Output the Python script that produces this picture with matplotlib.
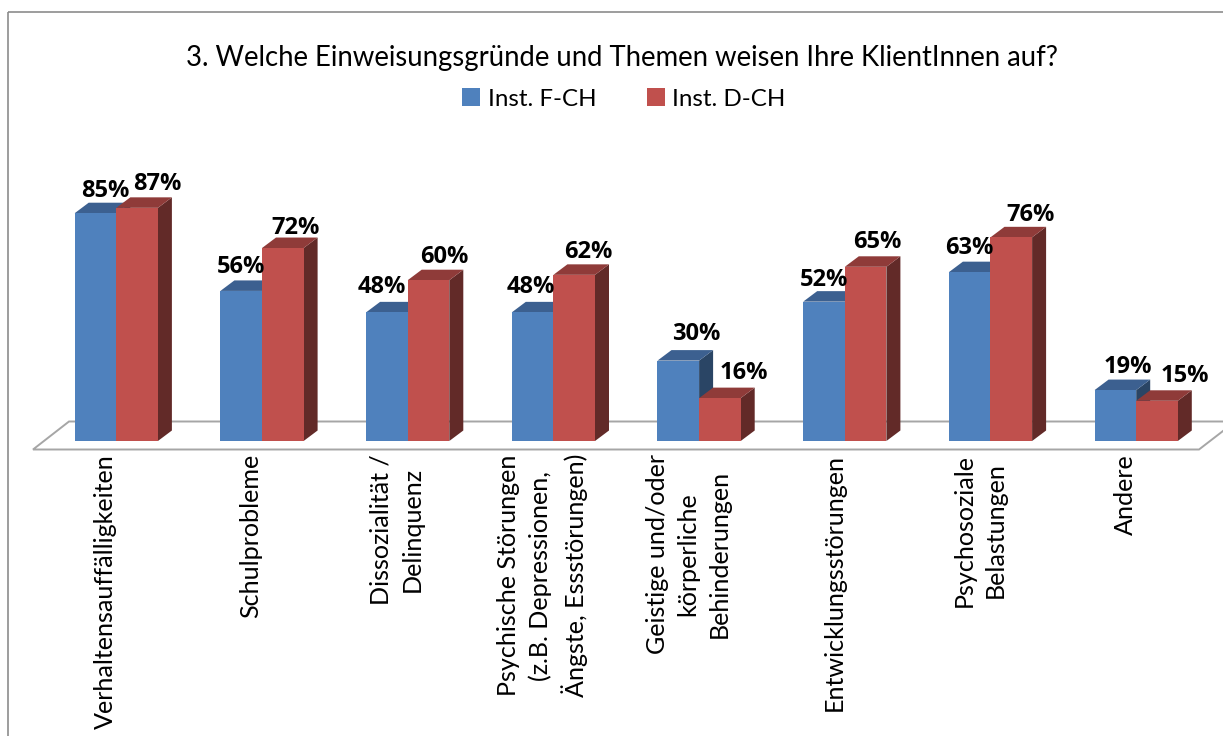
import matplotlib
matplotlib.use("Agg")
import matplotlib.pyplot as plt
from matplotlib.patches import Rectangle
from matplotlib.transforms import Affine2D

categories = ["Verhaltensauffälligkeiten", "Schulprobleme", "Dissozialität /\nDelinquenz",
              "Psychische Störungen\n(z.B. Depressionen,\nÄngste, Essstörungen)",
              "Geistige und/oder\nkörperliche\nBehinderungen", "Entwicklungsstörungen",
              "Psychosoziale\nBelastungen", "Andere"]
inst_f_ch = [85, 56, 48, 48, 30, 52, 63, 19]
inst_d_ch = [87, 72, 60, 62, 16, 65, 76, 15]
series_names = ["Inst. F-CH", "Inst. D-CH"]
title = "3. Welche Einweisungsgründe und Themen weisen Ihre KlientInnen auf?"

# label nudges in pixels relative to each bar's top centre
f_dx = [10, 0, -5, -2, 18, 0, 0, 12]
f_dy = [22, 24, 25, 25, 27, 22, 24, 23]
d_dx = [20, 13, 16, 14, 24, 12, 19, 28]
d_dy = [24, 20, 23, 23, 25, 25, 22, 25]

W, H = 1223, 736
STEP = 145.7      # px per category
PPV = 2.68        # px per percent
X0, Y0 = 116.3, 441
DX, DY = 14 / STEP, 10.5 / PPV   # 3-D depth in data units
BW = 41.6 / STEP
FONT = "Lato"
BOLD = "Open Sans"

fig = plt.figure(figsize=(W / 100, H / 100), dpi=100, facecolor="white")
ax = fig.add_axes([0, 0, 1, 1])
ax.set_xlim(-X0 / STEP, (W - X0) / STEP)
ax.set_ylim((Y0 - H) / PPV, Y0 / PPV)
ax.axis("off")

# pixel transform (origin top-left) for the chart frame and floor
px = Affine2D().scale(1 / W, -1 / H).translate(0, 1) + fig.transFigure
fig.add_artist(Rectangle((8, 12), W + 20, H + 20, transform=px, fill=False,
                         ec="#8c8c8c", lw=1.2))
ax.plot([1223, 69, 33, 1199, 1223], [421.5, 421.5, 449.5, 449.5, 431], transform=px,
        color="#a6a6a6", lw=1.4, zorder=1, solid_joinstyle="miter", clip_on=True)


def draw(values, off, front, top, side, name, z):
    xs = [i + off for i in range(len(values))]
    ax.bar(xs, values, width=BW, color=front, label=name, zorder=z + 1, linewidth=0)
    for x, v in zip(xs, values):
        r, l = x + BW / 2, x - BW / 2
        ax.fill([r, r + DX, r + DX, r], [0, DY, v + DY, v], color=side, lw=0, zorder=z)
        ax.fill([l, l + DX, r + DX, r], [v, v + DY, v + DY, v], color=top, lw=0, zorder=z)
    return xs


xf = draw(inst_f_ch, -BW / 2, "#4F81BD", "#3C6090", "#2A4565", series_names[0], 2)
xd = draw(inst_d_ch, BW / 2, "#C0504D", "#8F3B39", "#622A28", series_names[1], 4)

for xs, vals, dxs, dys in [(xf, inst_f_ch, f_dx, f_dy), (xd, inst_d_ch, d_dx, d_dy)]:
    for x, v, dx, dy in zip(xs, vals, dxs, dys):
        ax.annotate(f"{v}%", (x, v), xytext=(dx, dy), textcoords="offset pixels",
                    ha="center", va="center", fontsize=17, fontweight="bold",
                    family=BOLD, color="black", zorder=6)

for i, c in enumerate(categories):
    ax.annotate(c, (i, 0), xytext=(-11, -13), textcoords="offset pixels", rotation=90,
                ha="center", va="top", ma="center", fontsize=18.1, family=FONT,
                color="black", linespacing=1.42, annotation_clip=False)

ax.text(622 / W, 1 - 58 / H, title, transform=fig.transFigure, ha="center", va="center",
        fontsize=19.8, family=FONT, color="black")

ax.legend(loc="center", bbox_to_anchor=(624 / W, 1 - 99 / H), ncol=2, frameon=False,
          prop={"family": FONT, "size": 17.4}, handlelength=0.75, handleheight=0.75,
          handletextpad=0.3, columnspacing=2.1, labelcolor="black")

fig.savefig("out.png", dpi=100)
